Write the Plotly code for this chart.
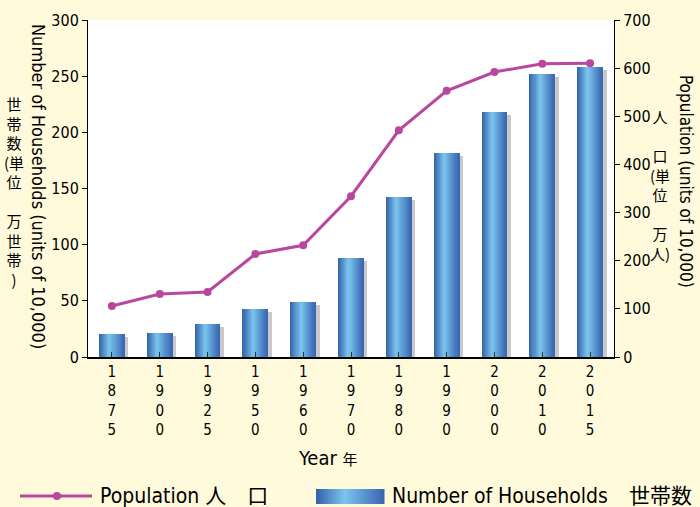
import plotly.graph_objects as go

years = ["1875", "1900", "1925", "1950", "1960", "1970", "1980", "1990", "2000", "2010", "2015"]
households = [20.5, 21.5, 29.5, 42.7, 48.8, 87.8, 142.4, 181.4, 218.3, 252.2, 258.5]
population = [106, 131, 135, 214, 232, 334, 471, 553, 592, 609, 610]

FONT = "DejaVu Sans Condensed, Noto Sans CJK JP, sans-serif"
CJK = "Noto Sans CJK JP, sans-serif"
BG = "#FFFADB"
LINE_COLOR = "#B8489D"

# plot area in pixels
L, R, T, B = 88, 614, 20, 357
W, H = 700, 507

def px(x):
    return (x - L) / (R - L)

def py(y):
    return (B - y) / (B - T)

# gradient stops for bars (position, rgb)
stops = [(0.0, (52, 95, 170)), (0.42, (122, 198, 238)), (1.0, (58, 100, 178))]

def grad(t):
    for (p0, c0), (p1, c1) in zip(stops[:-1], stops[1:]):
        if p0 <= t <= p1:
            f = (t - p0) / (p1 - p0)
            return "rgb(%d,%d,%d)" % tuple(round(a + (b - a) * f) for a, b in zip(c0, c1))
    return "rgb(%d,%d,%d)" % stops[-1][1]

x_idx = list(range(len(years)))
bar_w = 0.52
shadow_shift = 4 / 48
shadow_drop = 3 / ((B - T) / 300)

fig = go.Figure()

# shadow bars
fig.add_trace(go.Bar(
    x=x_idx, y=[v - shadow_drop for v in households],
    width=bar_w, offset=-bar_w / 2 + shadow_shift,
    marker=dict(color="#C9C9C9", line=dict(width=0)),
    showlegend=False, hoverinfo="skip", yaxis="y"))

K = 24
for i in range(K):
    t = (i + 0.5) / K
    fig.add_trace(go.Bar(
        x=x_idx, y=households,
        width=bar_w / K * 1.08, offset=-bar_w / 2 + i * bar_w / K,
        marker=dict(color=grad(t), line=dict(width=0)),
        showlegend=False, hoverinfo="skip" if i else None, yaxis="y",
        name="Number of Households 世帯数"))

fig.add_trace(go.Scatter(
    x=x_idx, y=population, yaxis="y2", mode="lines+markers",
    line=dict(color=LINE_COLOR, width=3),
    marker=dict(color=LINE_COLOR, size=8),
    showlegend=False, name="Population 人口"))

tick_text = ["<br>".join(list(y)) for y in years]

fig.update_layout(
    width=W, height=H,
    margin=dict(l=L, r=W - R, t=T, b=H - B),
    paper_bgcolor=BG, plot_bgcolor="white",
    barmode="overlay", bargap=0,
    font=dict(family=FONT, size=16, color="black"),
    xaxis=dict(
        range=[-0.5, len(years) - 0.5],
        tickmode="array", tickvals=x_idx, ticktext=tick_text,
        tickson="boundaries", ticks="inside", ticklen=5, tickcolor="#333",
        showline=True, linecolor="black", linewidth=1.5,
        showgrid=False, zeroline=False,
        tickfont=dict(size=15, family=FONT)),
    yaxis=dict(
        range=[0, 300], tickvals=[0, 50, 100, 150, 200, 250, 300],
        ticks="outside", ticklen=5, tickcolor="black",
        showline=True, linecolor="black", linewidth=1,
        showgrid=False, zeroline=False,
        tickfont=dict(size=16, family=FONT)),
    yaxis2=dict(
        range=[0, 700], tickvals=[0, 100, 200, 300, 400, 500, 600, 700],
        overlaying="y", side="right",
        ticks="outside", ticklen=5, tickcolor="black",
        showline=True, linecolor="black", linewidth=1,
        showgrid=False, zeroline=False,
        tickfont=dict(size=16, family=FONT)),
)

def note(text, x, y, size, family=FONT, angle=0, xanchor="center"):
    return dict(text=text, textangle=angle, x=px(x), y=py(y),
                xref="paper", yref="paper", xanchor=xanchor, yanchor="middle",
                showarrow=False, font=dict(size=size, family=family))

ann = [
    # left titles
    note("Number of Households (units of 10,000)", 39, 186, 18, angle=90),
    note("世<br>帯<br>数<br>(単<br>位<br> <br>万<br>世<br>帯<br>)", 14, 191, 15, CJK),
    # right titles
    note("Population (units of 10,000)", 686, 181, 17, angle=90),
    note("人<br> <br>口<br>(単<br>位<br> <br>万<br>人)", 660, 185, 15, CJK),
    # x title
    note("Year <span style='font-size:15px'>年</span>", 328, 458, 20),
    # legend texts
    note("Population 人　口", 98, 496, 21, xanchor="left"),
    note("Number of Households　世帯数", 390, 496, 21, xanchor="left"),
]

shapes = []
# legend line sample
shapes.append(dict(type="line", xref="paper", yref="paper",
                   x0=px(20), x1=px(92), y0=py(496), y1=py(496),
                   line=dict(color=LINE_COLOR, width=3)))
shapes.append(dict(type="circle", xref="paper", yref="paper",
                   x0=px(53), x1=px(61), y0=py(492), y1=py(500),
                   fillcolor=LINE_COLOR, line=dict(width=0)))
# legend gradient box
N = 34
bx0, bx1 = 316, 384
for i in range(N):
    a = bx0 + (bx1 - bx0) * i / N
    b = bx0 + (bx1 - bx0) * (i + 1) / N + 0.5
    shapes.append(dict(type="rect", xref="paper", yref="paper",
                       x0=px(a), x1=px(b), y0=py(504), y1=py(489),
                       fillcolor=grad((i + 0.5) / N), line=dict(width=0), layer="above"))

fig.update_layout(annotations=ann, shapes=shapes)
fig.write_html("out.html", config={"displayModeBar": False},
               post_script="document.body.style.margin='0';document.body.style.overflow='hidden';")
